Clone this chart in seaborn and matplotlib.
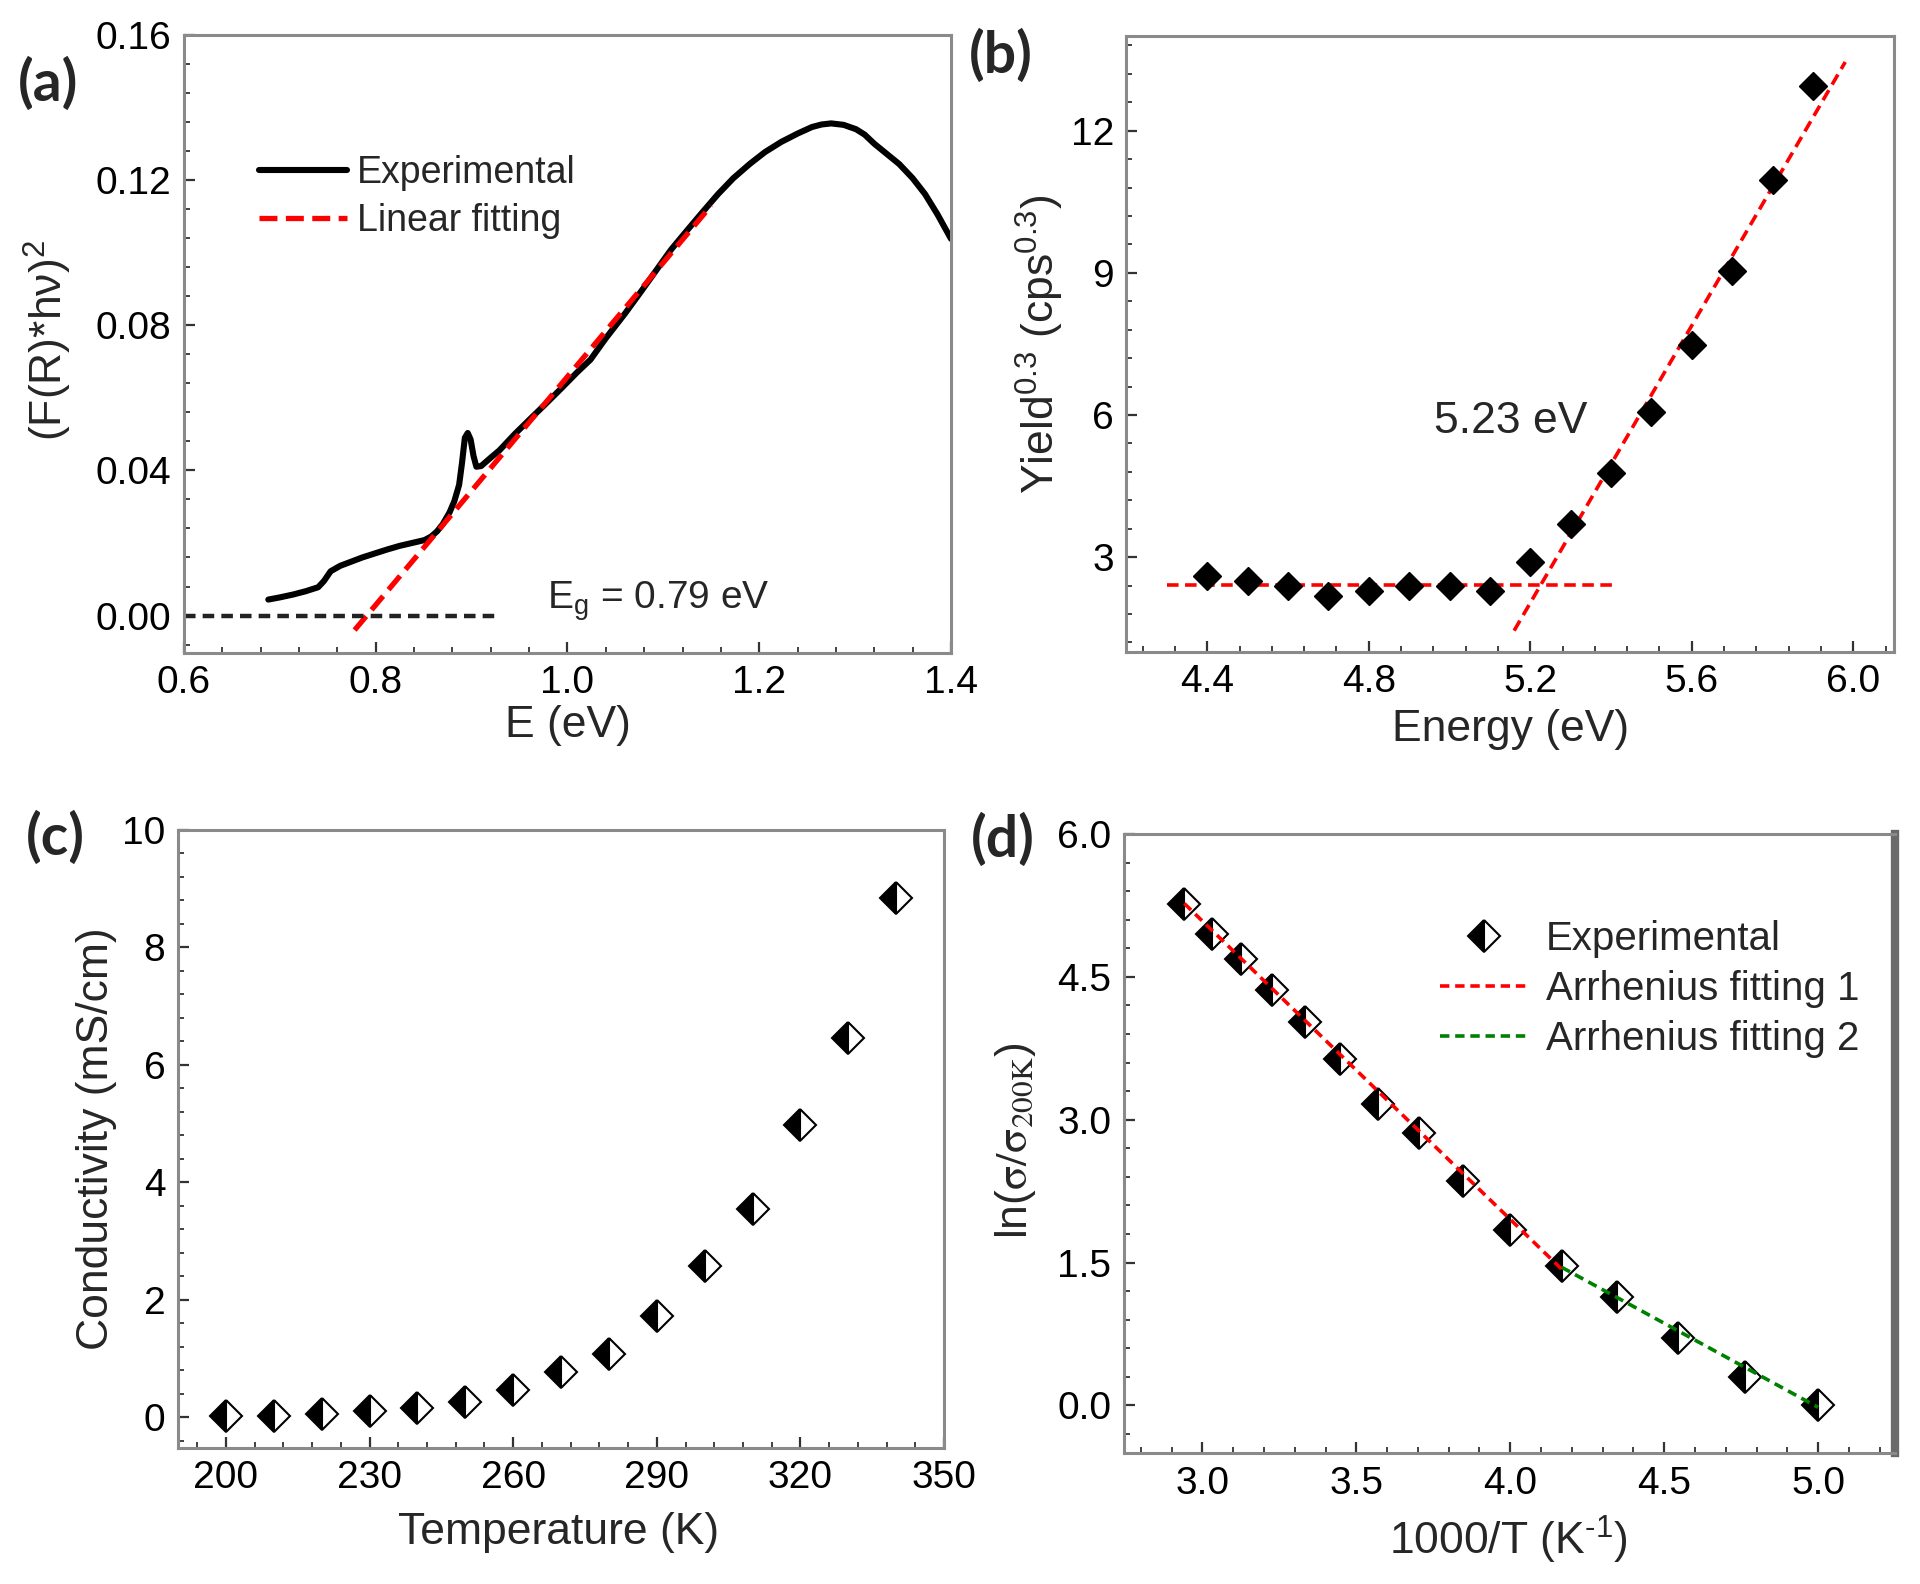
import matplotlib
matplotlib.use('Agg')
import matplotlib.pyplot as plt
import seaborn as sns
import numpy as np
import pandas as pd
from matplotlib.lines import Line2D
from matplotlib.ticker import MultipleLocator, AutoMinorLocator, FixedLocator, FormatStrFormatter

# ---- (a) Kubelka-Munk plot ----
e_exp = [0.688, 0.700, 0.714, 0.727, 0.740, 0.746, 0.753, 0.763, 0.773, 0.786,
         0.799, 0.812, 0.825, 0.838, 0.851, 0.858, 0.864, 0.870, 0.877, 0.882,
         0.887, 0.890, 0.893, 0.896, 0.899, 0.902, 0.905, 0.910, 0.920, 0.929,
         0.945, 0.962, 0.978, 0.994, 1.010, 1.024, 1.040, 1.060, 1.076, 1.092,
         1.108, 1.125, 1.141, 1.157, 1.173, 1.190, 1.206, 1.223, 1.240, 1.255,
         1.265, 1.275, 1.288, 1.301, 1.310, 1.320, 1.333, 1.346, 1.360, 1.373,
         1.386, 1.400]
fr_exp = [0.0044, 0.0050, 0.0058, 0.0067, 0.0078, 0.0095, 0.0122, 0.0137, 0.0147, 0.0160,
          0.0171, 0.0182, 0.0192, 0.0200, 0.0208, 0.0218, 0.0232, 0.0252, 0.0284, 0.0315,
          0.0360, 0.0420, 0.0490, 0.0503, 0.0485, 0.0440, 0.0410, 0.0412, 0.0435, 0.0455,
          0.0500, 0.0544, 0.0585, 0.0627, 0.0670, 0.0705, 0.0764, 0.0832, 0.0890, 0.0949,
          0.1008, 0.1062, 0.1112, 0.1161, 0.1205, 0.1244, 0.1277, 0.1305, 0.1328, 0.1346,
          0.1353, 0.1356, 0.1352, 0.1340, 0.1325, 0.1300, 0.1272, 0.1244, 0.1205, 0.1161,
          0.1105, 0.1038]
fit_a_x = [0.778, 1.150]
fit_a_y = [-0.004, 0.113]
base_a_x = [0.60, 0.93]
base_a_y = [0.0, 0.0]

# ---- (b) photoelectron yield ----
energy = [4.4, 4.5, 4.6, 4.7, 4.8, 4.9, 5.0, 5.1, 5.2, 5.3, 5.4, 5.5, 5.6, 5.7, 5.8, 5.9]
yield03 = [2.60, 2.50, 2.39, 2.18, 2.29, 2.39, 2.39, 2.29, 2.90, 3.70, 4.78, 6.06, 7.48, 9.04, 10.95, 12.94]
flat_b_x = [4.30, 5.41]
flat_b_y = [2.42, 2.42]
slope_b_x = [5.16, 5.98]
slope_b_y = [1.45, 13.45]

# ---- (c) conductivity vs temperature ----
temp = [200, 210, 220, 230, 240, 250, 260, 270, 280, 290, 300, 310, 320, 330, 340]
cond = [0.03, 0.03, 0.06, 0.11, 0.16, 0.27, 0.47, 0.78, 1.08, 1.73, 2.58, 3.55, 4.97, 6.46, 8.84]

# ---- (d) Arrhenius plot ----
inv_t = [2.941, 3.030, 3.125, 3.226, 3.333, 3.448, 3.571, 3.704, 3.846, 4.000,
         4.167, 4.348, 4.545, 4.762, 5.000]
ln_ratio = [5.26, 4.95, 4.69, 4.36, 4.03, 3.64, 3.16, 2.86, 2.36, 1.84,
            1.46, 1.14, 0.71, 0.30, 0.00]
fit1_x = [2.941, 4.167]
fit1_y = [5.27, 1.43]
fit2_x = [4.167, 5.000]
fit2_y = [1.45, -0.02]

sns.set_theme(style='white')
plt.rcParams['font.family'] = ['Liberation Sans', 'DejaVu Sans']
plt.rcParams['mathtext.fontset'] = 'custom'
plt.rcParams['mathtext.rm'] = 'Liberation Sans'
plt.rcParams['mathtext.it'] = 'Liberation Sans:italic'
plt.rcParams['mathtext.bf'] = 'Liberation Sans:bold'

TICK = 28
LABEL = 32
SPINE = '#8a8a8a'


def style_axes(ax, xfmt, yfmt):
    ax.xaxis.set_minor_locator(AutoMinorLocator(5))
    ax.yaxis.set_minor_locator(AutoMinorLocator(5))
    ax.xaxis.set_major_formatter(FormatStrFormatter(xfmt))
    ax.yaxis.set_major_formatter(FormatStrFormatter(yfmt))
    ax.tick_params(which='both', direction='in', top=False, right=False,
                   bottom=True, left=True, color='#333333', labelcolor='black',
                   labelsize=TICK, pad=9)
    ax.tick_params(which='major', length=8, width=1.6)
    ax.tick_params(which='minor', length=4, width=1.3)
    for sp in ax.spines.values():
        sp.set_color(SPINE)
        sp.set_linewidth(2.2)
    ax.xaxis.label.set_va('center')
    ax.yaxis.label.set_va('center')


fig = plt.figure(figsize=(19.2, 15.84), dpi=100)
ax_a = fig.add_axes([0.0958, 0.5878, 0.3995, 0.3902])
ax_b = fig.add_axes([0.5867, 0.5884, 0.3996, 0.3889])
ax_c = fig.add_axes([0.0927, 0.0859, 0.3990, 0.3902])
ax_d = fig.add_axes([0.5854, 0.0827, 0.4016, 0.3908])

# (a)
sns.lineplot(x=e_exp, y=fr_exp, ax=ax_a, color='black', lw=4.4, sort=False, errorbar=None)
ax_a.plot(fit_a_x, fit_a_y, color='red', lw=3.8, dashes=(3.4, 1.6))
ax_a.plot(base_a_x, base_a_y, color='#222222', lw=3.2, dashes=(2.6, 1.6))
ax_a.set_xlim(0.6, 1.4)
ax_a.set_ylim(-0.0103, 0.16)
ax_a.xaxis.set_major_locator(MultipleLocator(0.2))
ax_a.yaxis.set_major_locator(MultipleLocator(0.04))
ax_a.set_xlabel('E (eV)', fontsize=LABEL)
ax_a.set_ylabel('(F(R)*hν)$^{2}$', fontsize=LABEL)
style_axes(ax_a, '%.1f', '%.2f')
ax_a.xaxis.set_label_coords(0.5, -0.117)
ax_a.yaxis.set_label_coords(-0.177, 0.505)
ax_a.text(0.9786, 0.0018, 'E$_{\\mathrm{g}}$ = 0.79 eV', fontsize=28, ha='left', va='baseline')
h_a = [Line2D([], [], color='black', lw=4.4),
       Line2D([], [], color='red', lw=3.8, dashes=(3.4, 1.6))]
ax_a.legend(h_a, ['Experimental', 'Linear fitting'], loc='upper left',
            bbox_to_anchor=(0.098, 0.806), frameon=False, fontsize=27,
            handlelength=2.35, handletextpad=0.25, labelspacing=0.32,
            borderpad=0, borderaxespad=0)

# (b)
sns.lineplot(x=energy, y=yield03, ax=ax_b, color='black', marker='D', linestyle='',
             markersize=14, markeredgecolor='black', markeredgewidth=1, errorbar=None,
             sort=False, zorder=3)
ax_b.plot(flat_b_x, flat_b_y, color='red', lw=2.6, dashes=(3.2, 1.8), zorder=2)
ax_b.plot(slope_b_x, slope_b_y, color='red', lw=2.6, dashes=(3.2, 1.8), zorder=2)
ax_b.set_xlim(4.2, 6.1)
ax_b.set_ylim(1.0, 14.0)
ax_b.xaxis.set_major_locator(MultipleLocator(0.4))
ax_b.yaxis.set_major_locator(MultipleLocator(3))
ax_b.set_xlabel('Energy (eV)', fontsize=LABEL)
ax_b.set_ylabel('Yield$^{0.3}$ (cps$^{0.3}$)', fontsize=LABEL)
style_axes(ax_b, '%.1f', '%d')
ax_b.xaxis.set_label_coords(0.5, -0.126)
ax_b.yaxis.set_label_coords(-0.113, 0.5)
ax_b.text(4.962, 5.62, '5.23 eV', fontsize=32, ha='left', va='baseline')

# (c)
sns.lineplot(x=temp, y=cond, ax=ax_c, marker='D', linestyle='', markersize=16,
             fillstyle='left', markerfacecolor='black', markerfacecoloralt='white',
             markeredgecolor='black', markeredgewidth=1.5, color='black',
             errorbar=None, sort=False)
ax_c.set_xlim(190, 350)
ax_c.set_ylim(-0.52, 10)
ax_c.xaxis.set_major_locator(FixedLocator([200, 230, 260, 290, 320, 350]))
ax_c.yaxis.set_major_locator(MultipleLocator(2))
ax_c.set_xlabel('Temperature (K)', fontsize=LABEL)
ax_c.set_ylabel('Conductivity (mS/cm)', fontsize=LABEL)
style_axes(ax_c, '%d', '%d')
ax_c.xaxis.set_label_coords(0.497, -0.137)
ax_c.yaxis.set_label_coords(-0.106, 0.5)

# (d)
sns.lineplot(x=inv_t, y=ln_ratio, ax=ax_d, marker='D', linestyle='', markersize=16,
             fillstyle='left', markerfacecolor='black', markerfacecoloralt='white',
             markeredgecolor='black', markeredgewidth=1.5, color='black',
             errorbar=None, sort=False, zorder=2)
ax_d.plot(fit1_x, fit1_y, color='red', lw=2.6, dashes=(2.6, 1.6), zorder=3)
ax_d.plot(fit2_x, fit2_y, color='green', lw=2.6, dashes=(2.6, 1.6), zorder=3)
ax_d.set_xlim(2.745, 5.25)
ax_d.set_ylim(-0.5, 6.0)
ax_d.xaxis.set_major_locator(MultipleLocator(0.5))
ax_d.yaxis.set_major_locator(MultipleLocator(1.5))
ax_d.set_xlabel('1000/T (K$^{\\text{-}1}$)', fontsize=LABEL)
ax_d.set_ylabel('ln($\\mathrm{\\sigma}/\\mathrm{\\sigma}_{\\mathrm{200K}}$)', fontsize=LABEL,
                math_fontfamily='stix')
style_axes(ax_d, '%.1f', '%.1f')
ax_d.spines['right'].set_linewidth(6)
ax_d.spines['right'].set_color('#6a6a6a')
ax_d.xaxis.set_label_coords(0.499, -0.14)
ax_d.yaxis.set_label_coords(-0.141, 0.504)
h_d = [Line2D([], [], marker='D', linestyle='', markersize=16, fillstyle='left',
              markerfacecolor='black', markerfacecoloralt='white',
              markeredgecolor='black', markeredgewidth=1.5),
       Line2D([], [], color='red', lw=2.6, dashes=(2.6, 1.6)),
       Line2D([], [], color='green', lw=2.6, dashes=(2.6, 1.6))]
ax_d.legend(h_d, ['Experimental', 'Arrhenius fitting 1', 'Arrhenius fitting 2'],
            loc='upper left', bbox_to_anchor=(0.41, 0.861), frameon=False, fontsize=29,
            handlelength=2.2, handletextpad=0.42, labelspacing=0.3,
            borderpad=0, borderaxespad=0)

# panel letters
for txt, x, y in [('(a)', 48, 84), ('(b)', 1001, 56), ('(c)', 55, 838), ('(d)', 1003, 840)]:
    fig.text(x / 1920, 1 - y / 1584, txt, fontsize=41, fontweight='bold',
             family=['Lato', 'DejaVu Sans'], ha='center', va='center')

fig.savefig('out.png', dpi=100)
